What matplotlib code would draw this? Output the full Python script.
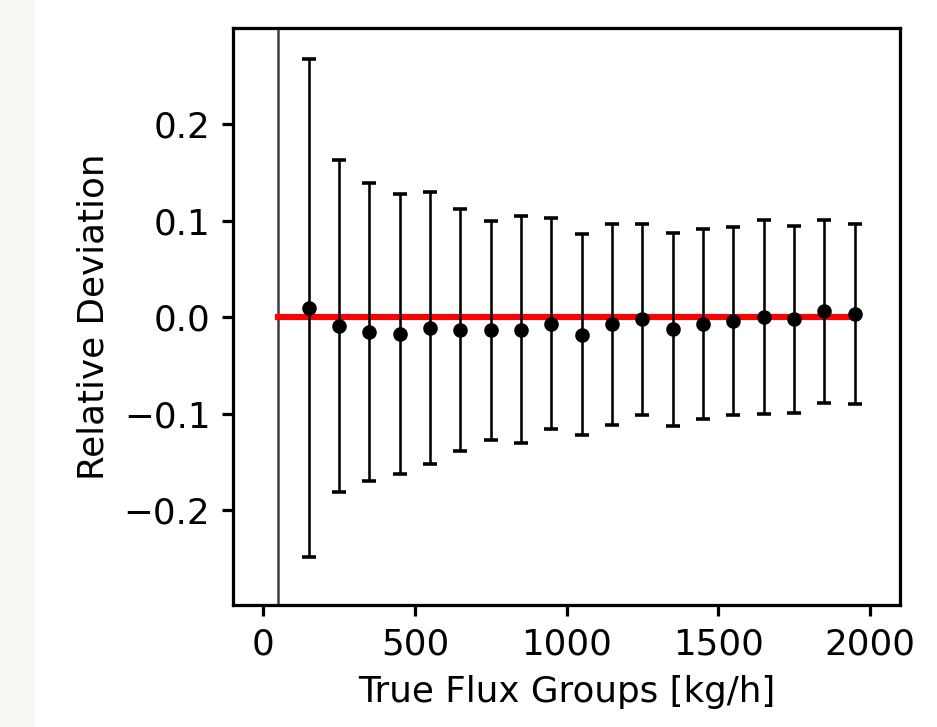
import matplotlib
matplotlib.use("Agg")
import matplotlib.pyplot as plt
from matplotlib.patches import Rectangle

# flux group centres [kg/h], mean relative deviation and its spread
flux_groups = [150, 250, 350, 450, 550, 650, 750, 850, 950, 1050,
               1150, 1250, 1350, 1450, 1550, 1650, 1750, 1850, 1950]
mean_dev = [0.010, -0.009, -0.0155, -0.017, -0.011, -0.013, -0.0135, -0.0125, -0.0065, -0.018,
            -0.007, -0.002, -0.012, -0.007, -0.0036, 0.0004, -0.002, 0.0063, 0.0031]
std_dev = [0.258, 0.172, 0.1545, 0.145, 0.141, 0.125, 0.1135, 0.1175, 0.1095, 0.104,
           0.104, 0.0993, 0.100, 0.0987, 0.0973, 0.1006, 0.0968, 0.0948, 0.0933]
lower_edge = 50
upper_edge = 1950

dpi = 233
fig = plt.figure(figsize=(937 / dpi, 727 / dpi), dpi=dpi)
fig.patches.append(Rectangle((0, 0), 35 / 937, 1, transform=fig.transFigure,
                             facecolor='#f7f6f2', edgecolor='none', zorder=0))
ax = fig.add_axes([233 / 937, 1 - 605 / 727, 667 / 937, 577 / 727])

ax.axvline(lower_edge, color='#444444', lw=0.8, zorder=1)
ax.plot([lower_edge, upper_edge], [0, 0], color='red', lw=1.9, zorder=2)
ax.errorbar(flux_groups, mean_dev, yerr=std_dev, fmt='o', color='black',
            markersize=3.5, elinewidth=0.8, capsize=2.2, capthick=1.1, zorder=3)

for side in ax.spines.values():
    side.set_linewidth(1.0)

ax.set_xlim(-100, 2100)
ax.set_ylim(-0.298, 0.3)
ax.set_xticks([0, 500, 1000, 1500, 2000])
ax.set_yticks([-0.2, -0.1, 0.0, 0.1, 0.2])
ax.tick_params(labelsize=11, width=1.0, length=3.5)
ax.set_xlabel('True Flux Groups [kg/h]', fontsize=11)
ax.set_ylabel('Relative Deviation', fontsize=11)

fig.savefig('out.png', dpi=dpi)
